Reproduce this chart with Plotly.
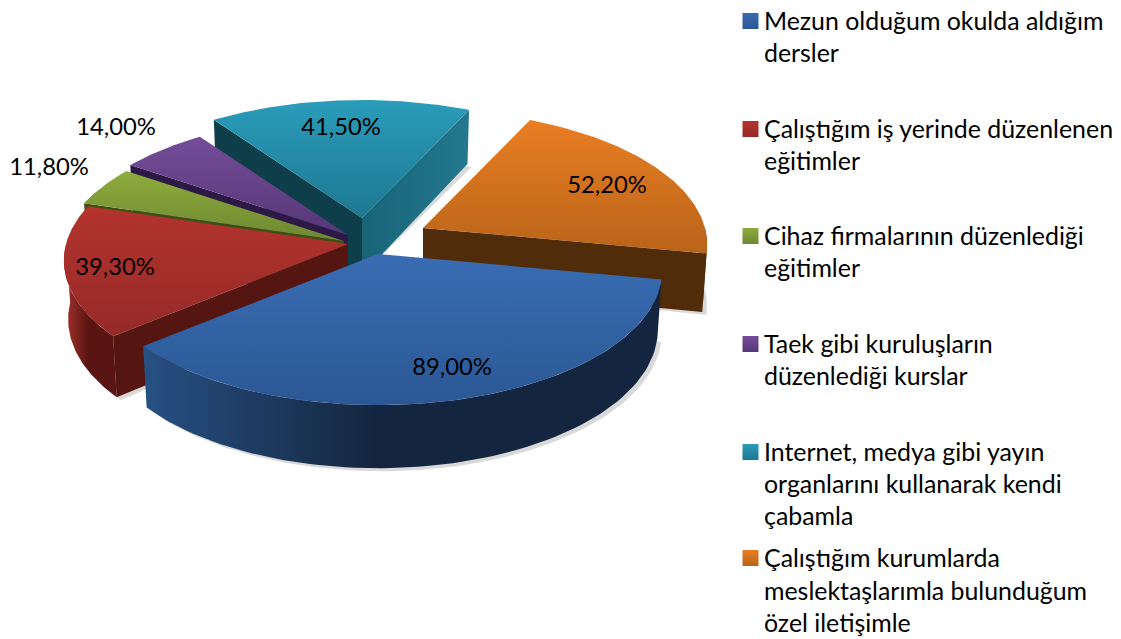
import numpy as np
import plotly.graph_objects as go

# degerler
categories = [
    "Mezun olduğum okulda aldığım dersler",
    "Çalıştığım iş yerinde düzenlenen eğitimler",
    "Cihaz firmalarının düzenlediği eğitimler",
    "Taek gibi kuruluşların düzenlediği kurslar",
    "Internet, medya gibi yayın organlarını kullanarak kendi çabamla",
    "Çalıştığım kurumlarda meslektaşlarımla bulunduğum özel iletişimle",
]
values = [89.0, 39.3, 11.8, 14.0, 41.5, 52.2]
legend_lines = [
    ["Mezun olduğum okulda aldığım", "dersler"],
    ["Çalıştığım iş yerinde düzenlenen", "eğitimler"],
    ["Cihaz firmalarının düzenlediği", "eğitimler"],
    ["Taek gibi kuruluşların", "düzenlediği kurslar"],
    ["Internet, medya gibi yayın", "organlarını kullanarak kendi", "çabamla"],
    ["Çalıştığım kurumlarda", "meslektaşlarımla bulunduğum", "özel iletişimle"],
]

# pasta geometrisi
first_angle = 100.8
a, b, k = 282, 132.5, 0.123
depth = 58
cx, cy = 360, 238
shift_x = [18, -12, -16, -12, 2, 63]
shift_y = [16, 6, 3, -3, -20, -10]
label_x = [452, 115, 49, 116, 341, 607]
label_y = [369, 269, 169, 129, 129, 187]
legend_x = 764
legend_y = [[24, 56], [132, 164], [239, 271], [347, 379], [455, 487, 519], [561, 594, 626]]
swatch_y = [21, 129, 236, 344, 452, 558]

# renkler: ust yuzey (acik, koyu), dis duvar (sol, sag), radyal duvarlar
top_colors = [
    ("#396cb3", "#2b5894"),
    ("#b4332d", "#952a28"),
    ("#8eac3c", "#6e8732"),
    ("#754c98", "#553778"),
    ("#2a9cba", "#1e7891"),
    ("#e97e23", "#b96419"),
]
arc_colors = [
    ("#275083", "#14263f"),
    ("#a8332e", "#5a1512"),
    ("#4a5f1c", "#3c5014"),
    ("#30194b", "#2d1946"),
    ("#1a6e82", "#14566a"),
    ("#502c0a", "#502c0a"),
]
wall_start = ["#1a3054", "#551612", "#3c5014", "#2d1946", "#0f3e4b", "#502c0a"]
wall_end = ["#1a3054", "#551612", "#3c5014", "#2d1946", "#186476", "#502c0a"]
wall_end_far = ["#1a3054", "#551612", "#3c5014", "#2d1946", "#23788f", "#502c0a"]
swatch_colors = [c[1] for c in top_colors]
swatch_top = [c[0] for c in top_colors]


def project(theta, ox, oy):
    t = np.radians(theta)
    X, Y = np.sin(t), np.cos(t)
    s = 1 / (1 + k * Y)
    return ox + a * X * s, oy - b * Y * s


def down(x, y, ox):
    # alt kenar: hafif perspektif ile merkeze yaklasir
    return ox + 0.985 * (x - ox), y + depth * (1 + (y - cy) / 1900)


def poly(xs, ys, c0, c1, kind, mid=1.0):
    if c0 == c1:
        return go.Scatter(x=xs, y=ys, mode="lines", fill="toself", fillcolor=c0,
                          line=dict(width=0), hoverinfo="skip", showlegend=False)
    lo, hi = (min(xs), max(xs)) if kind == "horizontal" else (min(ys), max(ys))
    scale = [[0, c0], [mid, c1]] if mid == 1.0 else [[0, c0], [mid, c1], [1, c1]]
    return go.Scatter(x=xs, y=ys, mode="lines", line=dict(width=0), hoverinfo="skip", showlegend=False,
                      fill="toself",
                      fillgradient=dict(type=kind, start=lo, stop=hi, colorscale=scale))


fig = go.Figure()
total = sum(values)
spans = [v / total * 360 for v in values]
starts = [first_angle + sum(spans[:i]) for i in range(len(values))]

# boyama sirasi: arkadan one
for i in [5, 4, 3, 2, 1, 0]:
    ox, oy = cx + shift_x[i], cy + shift_y[i]
    th = np.linspace(starts[i], starts[i] + spans[i], 80)
    ax, ay = project(th, ox, oy)
    bx, by = down(ax, ay, ox)
    ox2, oy2 = down(ox, oy, ox)

    # golge
    fig.add_trace(poly(list(bx + 4) + [ox2], list(by + 3) + [oy2], "#d9d9d9", "#d9d9d9", "horizontal"))
    # sadece gorunen yan yuzler
    if np.sin(np.radians(th[0])) < 0:
        fig.add_trace(poly([ox, ax[0], bx[0], ox2], [oy, ay[0], by[0], oy2], wall_start[i], wall_start[i], "horizontal"))
    if np.sin(np.radians(th[-1])) > 0:
        fig.add_trace(poly([ox, ax[-1], bx[-1], ox2], [oy, ay[-1], by[-1], oy2], wall_end[i], wall_end_far[i], "horizontal"))
    front = np.cos(np.radians(th)) < 0
    if front.any():
        c0, c1 = arc_colors[i]
        fx, fy, gx, gy = ax[front], ay[front], bx[front], by[front]
        fig.add_trace(poly(list(fx) + list(gx[::-1]), list(fy) + list(gy[::-1]), c0, c1, "horizontal", mid=0.45))
    # ust yuzey
    c0, c1 = top_colors[i]
    fig.add_trace(poly([ox] + list(ax), [oy] + list(ay), c0, c1, "vertical"))

# yuzde etiketleri
fig.add_trace(go.Scatter(
    x=label_x, y=label_y, mode="text",
    text=[f"{v:.2f}".replace(".", ",") + "%" for v in values],
    textposition="middle center",
    textfont=dict(family="Lato", size=23.8, color="#000000"),
    hoverinfo="skip", showlegend=False,
))

# lejant
for i, lines in enumerate(legend_lines):
    fig.add_trace(go.Scatter(
        x=[750.5], y=[swatch_y[i]], mode="markers",
        marker=dict(symbol="square", size=16, color=swatch_top[i],
                    gradient=dict(type="vertical", color=swatch_colors[i]), line=dict(width=0)),
        name=categories[i], hoverinfo="name", showlegend=False,
    ))
    fig.add_trace(go.Scatter(
        x=[legend_x] * len(lines), y=legend_y[i], mode="text", text=lines,
        textposition="middle right",
        textfont=dict(family="Lato", size=24.9, color="#000000"),
        hoverinfo="skip", showlegend=False,
    ))

fig.update_layout(
    width=1121, height=639,
    margin=dict(l=0, r=0, t=0, b=0),
    paper_bgcolor="white", plot_bgcolor="white",
    xaxis=dict(range=[0, 1121], visible=False),
    yaxis=dict(range=[639, 0], visible=False),
)
fig.write_html("out.html", config={"displayModeBar": False}, post_script="document.body.style.margin='0';")
